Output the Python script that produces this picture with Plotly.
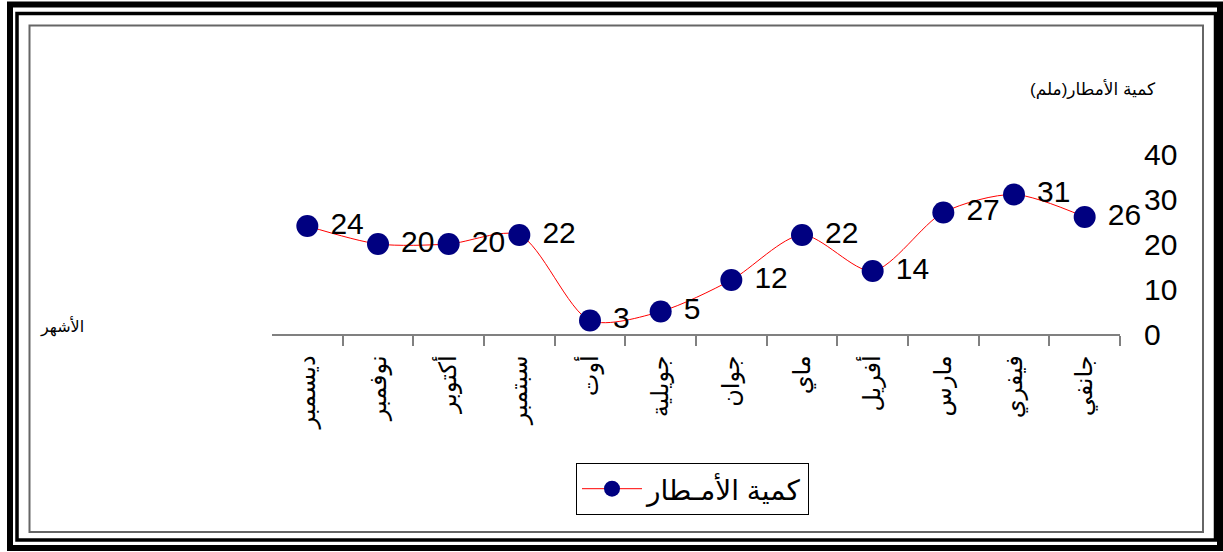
import plotly.graph_objects as go

# Monthly rainfall (mm), listed from January to December
months = ["جانفي", "فيفري", "مارس", "أفريل", "ماي", "جوان",
          "جويلية", "أوت", "سبتمبر", "أكتوبر", "نوفمبر", "ديسمبر"]
rainfall = [26, 31, 27, 14, 22, 12, 5, 3, 22, 20, 20, 24]
y_ticks = [0, 10, 20, 30, 40]

series_name = "كمية الأمـطار"
y_title = "كمية الأمطار(ملم)"
x_title = "الأشهر"

W, H = 1223, 552
L, R, T, B = 272, 103, 154, 218
FONT = "Arial, Liberation Sans, DejaVu Sans, sans-serif"


def px_x(x):
    return (x - L) / (W - L - R)


def px_y(y):
    return (H - B - y) / (H - T - B)


fig = go.Figure()
fig.add_trace(go.Scatter(
    x=months, y=rainfall, name=series_name,
    mode="lines+markers+text",
    line=dict(color="#ff0000", width=1, shape="spline", smoothing=0.8),
    marker=dict(color="#000080", size=22, line=dict(width=0)),
    text=[" " + str(v) for v in rainfall], textposition="middle right",
    textfont=dict(family=FONT, size=30, color="black"),
    cliponaxis=False,
))

# Frame: two black borders and an inner grey border
shapes = []
for (x0, y0, x1, y1, w, c) in [
    (10, 4.5, 1220, 548, 6, "black"),
    (17, 13.5, 1215.5, 540, 3.5, "black"),
    (29.5, 25.5, 1203, 532, 2, "#666666"),
]:
    shapes.append(dict(type="rect", xref="paper", yref="paper",
                       x0=px_x(x0), x1=px_x(x1), y0=px_y(y1), y1=px_y(y0),
                       line=dict(color=c, width=w), fillcolor="rgba(0,0,0,0)",
                       layer="below"))

n = len(months)
fig.update_layout(
    width=W, height=H,
    margin=dict(l=L, r=R, t=T, b=B),
    paper_bgcolor="white", plot_bgcolor="white",
    font=dict(family=FONT, color="black"),
    shapes=shapes,
    showlegend=True,
    legend=dict(
        x=px_x(576), y=px_y(463), xanchor="left", yanchor="top",
        bordercolor="black", borderwidth=1, bgcolor="white",
        font=dict(family=FONT, size=28, color="black"),
        itemwidth=60,
    ),
    xaxis=dict(
        type="category", range=[n - 0.5, -0.5],
        showline=True, linecolor="#808080", linewidth=1.5,
        ticks="outside", ticklen=10, tickcolor="#808080", tickwidth=1.5,
        tickson="boundaries", tickangle=-90, ticklabelstandoff=10,
        tickfont=dict(family=FONT, size=24, color="black"),
        showgrid=False, zeroline=False,
    ),
    yaxis=dict(
        side="right", range=[0, 40], tickvals=y_ticks,
        showline=False, showgrid=False, zeroline=False, ticks="",
        ticklabelstandoff=23,
        tickfont=dict(family=FONT, size=30, color="black"),
    ),
    annotations=[
        dict(text=y_title, xref="paper", yref="paper",
             x=px_x(1158), y=px_y(90), xanchor="right", yanchor="middle",
             showarrow=False, font=dict(family=FONT, size=17, color="black")),
        dict(text=x_title, xref="paper", yref="paper",
             x=px_x(86), y=px_y(326), xanchor="right", yanchor="middle",
             showarrow=False, font=dict(family=FONT, size=16, color="black")),
    ],
)

fig.write_html("out.html")
